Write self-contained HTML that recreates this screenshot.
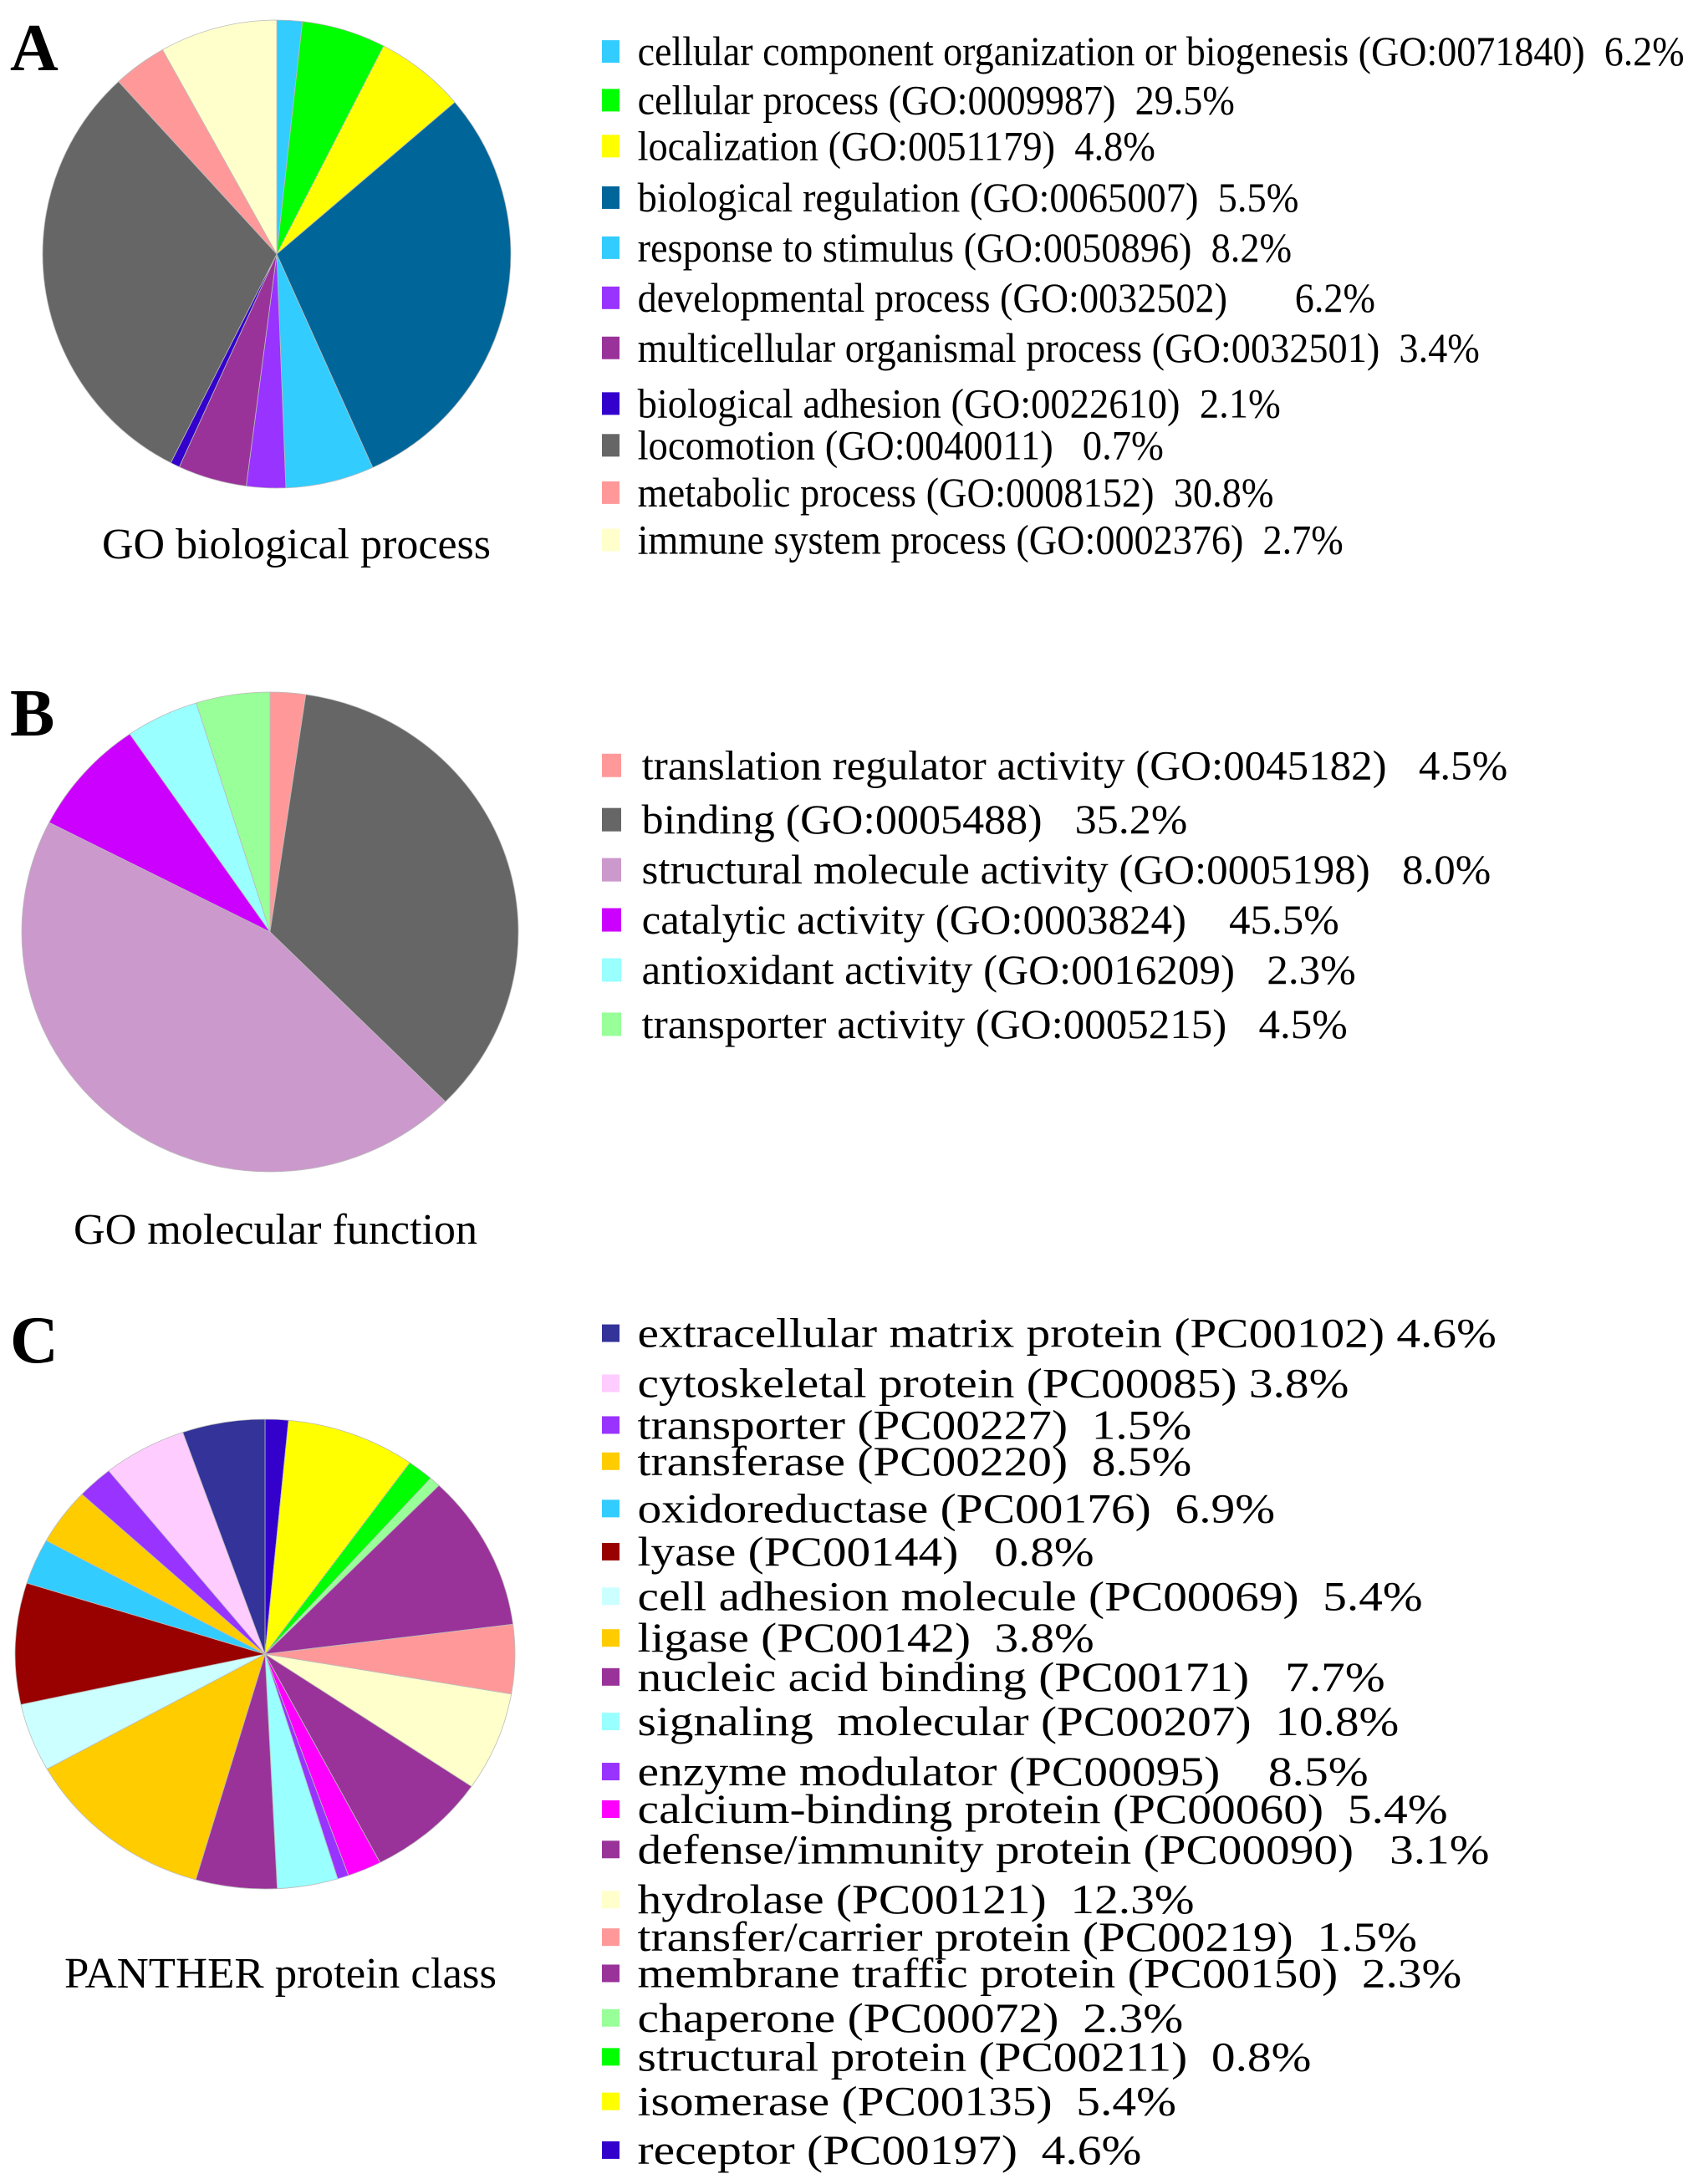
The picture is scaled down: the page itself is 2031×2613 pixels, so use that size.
<!DOCTYPE html>
<html><head><meta charset="utf-8"><style>
html,body{margin:0;padding:0;background:#fff;}
svg{display:block;}
svg text{font-family:"Liberation Serif","Times New Roman",serif;white-space:pre;}
</style></head><body>
<svg id="fig" width="2031" height="2613" viewBox="0 0 2031 2613" xmlns="http://www.w3.org/2000/svg">
<text x="12" y="84" font-size="80" font-weight="bold">A</text>
<text x="12" y="880" font-size="80" font-weight="bold">B</text>
<text x="12" y="1630" font-size="80" font-weight="bold">C</text>
<text x="122" y="668" font-size="52" textLength="465" lengthAdjust="spacingAndGlyphs">GO biological process</text>
<text x="88" y="1488" font-size="52" textLength="483" lengthAdjust="spacingAndGlyphs">GO molecular function</text>
<text x="77" y="2378" font-size="52" textLength="517" lengthAdjust="spacingAndGlyphs">PANTHER protein class</text>
<g id="pies"></g>
<g id="legends"></g>
</svg>
<script>
// Slice values (angular share), clockwise from 12 o'clock
const sliceA = [1.75, 5.8, 6.2, 29.5, 6.1, 2.7, 4.75, 0.64, 30.7, 3.7, 8.1];
const colorA = ["#33ccff","#00ff00","#ffff00","#006699","#33ccff","#9933ff","#993399","#3300cc","#666666","#ff9999","#ffffcc"];
const sliceB = [2.3, 35.2, 45.0, 7.9, 4.75, 4.8];
const colorB = ["#ff9999","#666666","#cc99cc","#cc00ff","#99ffff","#99ff99"];
const sliceC = [5.4, 30, 6.1, 2.6, 38.6, 17.1, 24.5, 28.3, 7.9, 2.6, 14.1, 18.9, 44.6, 16.9, 30, 11.3, 14, 8.4, 19.5, 19.2];
const colorC = ["#3300cc","#ffff00","#00ff00","#99ff99","#993399","#ff9999","#ffffcc","#993399","#ff00ff","#9933ff","#99ffff","#993399","#ffcc00","#ccffff","#990000","#33ccff","#ffcc00","#9933ff","#ffccff","#333399"];

const labelsA = ["cellular component organization or biogenesis (GO:0071840)  6.2%","cellular process (GO:0009987)  29.5%","localization (GO:0051179)  4.8%","biological regulation (GO:0065007)  5.5%","response to stimulus (GO:0050896)  8.2%","developmental process (GO:0032502)       6.2%","multicellular organismal process (GO:0032501)  3.4%","biological adhesion (GO:0022610)  2.1%","locomotion (GO:0040011)   0.7%","metabolic process (GO:0008152)  30.8%","immune system process (GO:0002376)  2.7%"];
const legColA = ["#33ccff","#00ff00","#ffff00","#006699","#33ccff","#9933ff","#993399","#3300cc","#666666","#ff9999","#ffffcc"];
const labelsB = ["translation regulator activity (GO:0045182)   4.5%","binding (GO:0005488)   35.2%","structural molecule activity (GO:0005198)   8.0%","catalytic activity (GO:0003824)    45.5%","antioxidant activity (GO:0016209)   2.3%","transporter activity (GO:0005215)   4.5%"];
const legColB = ["#ff9999","#666666","#cc99cc","#cc00ff","#99ffff","#99ff99"];
const labelsC = ["extracellular matrix protein (PC00102) 4.6%","cytoskeletal protein (PC00085) 3.8%","transporter (PC00227)  1.5%","transferase (PC00220)  8.5%","oxidoreductase (PC00176)  6.9%","lyase (PC00144)   0.8%","cell adhesion molecule (PC00069)  5.4%","ligase (PC00142)  3.8%","nucleic acid binding (PC00171)   7.7%","signaling  molecular (PC00207)  10.8%","enzyme modulator (PC00095)    8.5%","calcium-binding protein (PC00060)  5.4%","defense/immunity protein (PC00090)   3.1%","hydrolase (PC00121)  12.3%","transfer/carrier protein (PC00219)  1.5%","membrane traffic protein (PC00150)  2.3%","chaperone (PC00072)  2.3%","structural protein (PC00211)  0.8%","isomerase (PC00135)  5.4%","receptor (PC00197)  4.6%"];
const legColC = ["#333399","#ffccff","#9933ff","#ffcc00","#33ccff","#990000","#ccffff","#ffcc00","#993399","#99ffff","#9933ff","#ff00ff","#993399","#ffffcc","#ff9999","#993399","#99ff99","#00ff00","#ffff00","#3300cc"];

const NS = "http://www.w3.org/2000/svg";
const S = 1.665;
function pie(vals, cols, cx, cy, rx, ry, name) {
  const g = document.createElementNS(NS, "g");
  
  
  const tot = vals.reduce((a, b) => a + b, 0);
  let a0 = 0;
  vals.forEach((v, i) => {
    const a1 = a0 + v / tot * 2 * Math.PI;
    const x0 = cx + rx * Math.sin(a0), y0 = cy - ry * Math.cos(a0);
    const x1 = cx + rx * Math.sin(a1), y1 = cy - ry * Math.cos(a1);
    const large = (a1 - a0) > Math.PI ? 1 : 0;
    const p = document.createElementNS(NS, "path");
    p.setAttribute("d", `M${cx},${cy} L${x0},${y0} A${rx},${ry} 0 ${large} 1 ${x1},${y1} Z`);
    p.setAttribute("fill", cols[i]);
    p.setAttribute("stroke", "#bbbbbb");
    p.setAttribute("stroke-width", "0.8");
    
    
    g.appendChild(p);
    a0 = a1;
  });
  document.getElementById("pies").appendChild(g);
}
pie(sliceA, colorA, 331, 304, 280, 280, "pie-a");
pie(sliceB, colorB, 323, 1115, 297, 287, "pie-b");
pie(sliceC, colorC, 317, 1979, 299, 281, "pie-c");

const rowsA = [37, 72, 105, 142, 178, 214, 250, 290, 320, 354, 388];
const endA = [1210, 887, 830, 933, 928, 988, 1063, 920, 836, 915, 965];
const rowsB = [550, 589, 625, 661, 697, 736];
const endB = [1083, 853, 1071, 962, 974, 968];
const rowsC = [958, 994, 1024, 1050, 1084, 1115, 1147, 1177, 1205, 1237, 1273, 1300, 1329, 1365, 1392, 1418, 1450, 1478, 1510, 1545];
const endC = [1075, 969, 856, 856, 916, 786, 1022, 786, 995, 1005, 983, 1040, 1070, 858, 1018, 1050, 850, 942, 845, 820];

function legend(labels, cols, rows, ends, startThumb, sqW, sqH, fs, name) {
  const g = document.createElementNS(NS, "g");
  
  
  labels.forEach((t, i) => {
    const cy = rows[i] * S;
    const r = document.createElementNS(NS, "rect");
    r.setAttribute("x", 720); r.setAttribute("y", cy - sqH / 2);
    r.setAttribute("width", sqW); r.setAttribute("height", sqH);
    r.setAttribute("fill", cols[i]);
    
    
    g.appendChild(r);
    const x0 = startThumb * S, x1 = ends[i] * S;
    const tx = document.createElementNS(NS, "text");
    tx.setAttribute("x", x0); tx.setAttribute("y", cy + fs * 0.33);
    tx.setAttribute("font-size", fs);
    tx.setAttribute("textLength", x1 - x0);
    tx.setAttribute("lengthAdjust", "spacingAndGlyphs");
    tx.textContent = t;
    
    
    g.appendChild(tx);
  });
  document.getElementById("legends").appendChild(g);
}
legend(labelsA, legColA, rowsA, endA, 458, 21, 27, 50, "legend-a");
legend(labelsB, legColB, rowsB, endB, 461, 23, 28, 50, "legend-b");
legend(labelsC, legColC, rowsC, endC, 458, 21, 21, 50, "legend-c");
</script>
</body></html>
